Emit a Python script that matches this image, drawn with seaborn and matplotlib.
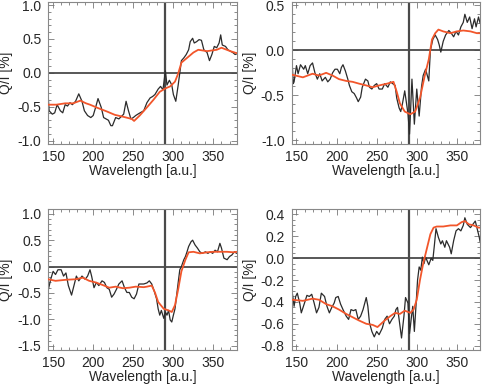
import matplotlib
matplotlib.use("Agg")
import matplotlib.pyplot as plt
import seaborn as sns
from matplotlib.ticker import AutoMinorLocator, MultipleLocator, FormatStrFormatter

# panel 1 (top left)
x1_obs = [144, 145, 149, 152, 155, 159, 162, 165, 168, 171, 174, 178, 182, 186, 189, 193, 197, 200, 203, 206,
          210, 213, 216, 219, 222, 224, 228, 232, 238, 241, 244, 247, 250, 253, 257, 263, 267, 271, 274, 277,
          281, 284, 287, 290, 292, 295, 298, 300, 303, 306, 308, 310, 313, 316, 319, 321, 324, 326, 329, 332,
          335, 338, 342, 345, 348, 351, 354, 357, 359, 361, 365, 368, 371, 374, 377, 379]
y1_obs = [-0.37, -0.56, -0.61, -0.59, -0.47, -0.56, -0.59, -0.47, -0.49, -0.44, -0.47, -0.42, -0.31, -0.42,
          -0.56, -0.63, -0.66, -0.63, -0.51, -0.38, -0.51, -0.66, -0.68, -0.70, -0.78, -0.78, -0.66, -0.68,
          -0.61, -0.42, -0.56, -0.68, -0.66, -0.63, -0.60, -0.56, -0.44, -0.37, -0.35, -0.32, -0.24, -0.20,
          -0.25, 0.03, -0.18, -0.11, -0.18, -0.32, -0.42, -0.18, 0.00, 0.18, 0.22, 0.27, 0.34, 0.46, 0.51,
          0.44, 0.46, 0.49, 0.48, 0.34, 0.30, 0.18, 0.27, 0.39, 0.37, 0.44, 0.56, 0.41, 0.39, 0.34, 0.32,
          0.30, 0.27, 0.28]
x1_fit = [144, 154, 165, 175, 184, 191, 196, 206, 217, 227, 238, 248, 251, 258, 267, 275, 283, 290, 296, 302,
          306, 310, 317, 325, 331, 342, 354, 360, 371, 379]
y1_fit = [-0.47, -0.47, -0.45, -0.45, -0.41, -0.45, -0.47, -0.52, -0.57, -0.62, -0.65, -0.68, -0.71, -0.63,
          -0.51, -0.40, -0.28, -0.23, -0.20, -0.13, -0.01, 0.15, 0.22, 0.30, 0.34, 0.32, 0.34, 0.37, 0.32, 0.29]

# panel 2 (top right)
x2_obs = [144, 146, 147, 150, 152, 155, 159, 161, 164, 167, 170, 173, 176, 179, 182, 186, 189, 192, 195, 198,
          201, 204, 206, 208, 211, 214, 216, 219, 222, 225, 227, 230, 232, 236, 239, 241, 244, 247, 250, 253,
          257, 260, 264, 267, 270, 273, 275, 278, 280, 282, 285, 289, 291, 294, 297, 300, 303, 306, 308, 311,
          315, 317, 320, 323, 326, 328, 330, 333, 336, 340, 343, 346, 349, 352, 355, 358, 360, 363, 366, 369,
          372, 374, 377, 379]
y2_obs = [-0.04, -0.37, -0.35, -0.17, -0.26, -0.16, -0.21, -0.17, -0.26, -0.17, -0.14, -0.25, -0.32, -0.26,
          -0.34, -0.30, -0.35, -0.32, -0.25, -0.21, -0.21, -0.26, -0.19, -0.16, -0.23, -0.32, -0.39, -0.46,
          -0.48, -0.53, -0.57, -0.52, -0.41, -0.32, -0.34, -0.41, -0.43, -0.39, -0.37, -0.43, -0.43, -0.37,
          -0.41, -0.35, -0.37, -0.39, -0.53, -0.64, -0.68, -0.60, -0.45, -0.70, -0.93, -0.32, -0.82, -0.43,
          -0.73, -0.40, -0.28, -0.21, -0.34, 0.00, 0.12, 0.17, 0.12, 0.06, -0.02, 0.10, 0.17, 0.22, 0.19,
          0.15, 0.21, 0.17, 0.26, 0.31, 0.40, 0.31, 0.37, 0.24, 0.35, 0.26, 0.37, 0.30]
x2_fit = [144, 158, 170, 178, 187, 195, 203, 212, 220, 228, 237, 245, 253, 263, 271, 275, 279, 285, 292, 298,
          304, 310, 315, 319, 323, 327, 333, 342, 350, 358, 367, 375, 379]
y2_fit = [-0.27, -0.30, -0.26, -0.28, -0.25, -0.28, -0.32, -0.34, -0.35, -0.37, -0.39, -0.41, -0.39, -0.37,
          -0.35, -0.46, -0.59, -0.68, -0.71, -0.68, -0.53, -0.28, -0.10, 0.12, 0.19, 0.23, 0.21, 0.19, 0.21,
          0.22, 0.21, 0.19, 0.19]

# panel 3 (bottom left)
x3_obs = [144, 147, 150, 153, 156, 160, 163, 166, 169, 173, 176, 179, 182, 186, 190, 193, 196, 198, 201, 204,
          207, 211, 214, 217, 220, 223, 226, 229, 232, 236, 239, 242, 245, 248, 251, 254, 257, 263, 267, 270,
          273, 276, 279, 281, 283, 285, 288, 290, 292, 294, 296, 298, 300, 302, 304, 306, 308, 310, 313, 315,
          317, 319, 322, 324, 327, 330, 333, 336, 340, 343, 346, 349, 352, 355, 358, 360, 363, 367, 370, 373,
          376, 379]
y3_obs = [-0.44, -0.24, -0.09, -0.15, -0.06, -0.06, -0.18, -0.12, -0.36, -0.54, -0.36, -0.18, -0.27, -0.18,
          -0.24, -0.18, -0.06, -0.18, -0.40, -0.30, -0.36, -0.27, -0.30, -0.40, -0.43, -0.58, -0.52, -0.43,
          -0.33, -0.27, -0.40, -0.49, -0.49, -0.58, -0.61, -0.52, -0.33, -0.33, -0.31, -0.27, -0.33, -0.46,
          -0.61, -0.80, -0.92, -0.83, -0.98, -0.86, -0.92, -0.83, -1.01, -1.05, -0.92, -0.80, -0.55, -0.30,
          -0.06, 0.00, 0.13, 0.19, 0.28, 0.38, 0.47, 0.50, 0.41, 0.35, 0.28, 0.25, 0.28, 0.25, 0.28, 0.25,
          0.31, 0.28, 0.44, 0.35, 0.16, 0.13, 0.19, 0.22, 0.28, 0.25]
x3_fit = [144, 153, 166, 178, 187, 195, 203, 212, 220, 228, 237, 245, 253, 263, 267, 273, 277, 281, 288, 294,
          298, 302, 306, 310, 315, 319, 325, 333, 342, 350, 358, 367, 375, 379]
y3_fit = [-0.24, -0.27, -0.25, -0.24, -0.21, -0.27, -0.30, -0.35, -0.40, -0.38, -0.41, -0.40, -0.38, -0.39,
          -0.38, -0.36, -0.49, -0.67, -0.80, -0.83, -0.86, -0.73, -0.43, -0.09, 0.13, 0.27, 0.28, 0.25, 0.27,
          0.28, 0.28, 0.28, 0.27, 0.28]

# panel 4 (bottom right)
x4_obs = [144, 145, 147, 149, 151, 154, 156, 160, 163, 166, 169, 172, 175, 178, 181, 185, 188, 191, 194, 197,
          199, 202, 205, 208, 212, 215, 218, 221, 224, 227, 230, 233, 237, 239, 241, 244, 247, 250, 253, 257,
          260, 263, 266, 269, 272, 274, 276, 278, 281, 284, 286, 289, 291, 293, 295, 297, 299, 301, 303, 305,
          307, 309, 311, 315, 318, 320, 322, 324, 327, 330, 332, 335, 337, 341, 343, 346, 349, 352, 355, 358,
          360, 363, 367, 370, 373, 375, 378, 379]
y4_obs = [-0.32, -0.33, -0.44, -0.35, -0.32, -0.41, -0.50, -0.41, -0.34, -0.35, -0.33, -0.41, -0.50, -0.45,
          -0.32, -0.35, -0.44, -0.50, -0.45, -0.41, -0.36, -0.35, -0.42, -0.47, -0.53, -0.56, -0.47, -0.48,
          -0.47, -0.56, -0.53, -0.47, -0.36, -0.44, -0.59, -0.67, -0.72, -0.67, -0.70, -0.64, -0.56, -0.53,
          -0.60, -0.56, -0.53, -0.47, -0.45, -0.56, -0.73, -0.53, -0.36, -0.41, -0.69, -0.56, -0.44, -0.67,
          -0.44, -0.20, -0.08, -0.11, 0.01, -0.05, 0.01, -0.06, 0.00, -0.02, 0.12, 0.27, 0.19, 0.13, 0.16,
          0.10, 0.16, 0.10, 0.04, 0.16, 0.25, 0.27, 0.25, 0.30, 0.37, 0.31, 0.28, 0.31, 0.34, 0.28, 0.19, 0.15]
x4_fit = [144, 158, 170, 178, 187, 195, 203, 212, 220, 228, 237, 245, 251, 254, 260, 267, 273, 279, 285, 292,
          296, 300, 304, 308, 313, 317, 321, 325, 333, 342, 350, 356, 360, 365, 371, 377, 379]
y4_fit = [-0.38, -0.39, -0.37, -0.38, -0.42, -0.44, -0.47, -0.51, -0.54, -0.57, -0.60, -0.61, -0.63, -0.61,
          -0.57, -0.53, -0.50, -0.51, -0.48, -0.50, -0.47, -0.38, -0.20, -0.05, 0.10, 0.22, 0.28, 0.29, 0.29,
          0.30, 0.30, 0.33, 0.34, 0.31, 0.30, 0.28, 0.28]

panels = [
    (x1_obs, y1_obs, x1_fit, y1_fit, (-1.05, 1.05), 0.5, 5),
    (x2_obs, y2_obs, x2_fit, y2_fit, (-1.04, 0.54), 0.5, 5),
    (x3_obs, y3_obs, x3_fit, y3_fit, (-1.58, 1.09), 0.5, 5),
    (x4_obs, y4_obs, x4_fit, y4_fit, (-0.84, 0.45), 0.2, 4),
]
line_pos = 290
xlim = (144, 379)

sns.set_style("ticks")
plt.rcParams["font.family"] = ["Liberation Sans", "DejaVu Sans"]
plt.rcParams["font.size"] = 10

fig = plt.figure(figsize=(4.85, 3.88), dpi=100)
rects = [
    [0.0996, 0.6289, 0.3885, 0.3668],
    [0.6014, 0.6289, 0.3885, 0.3668],
    [0.0996, 0.0979, 0.3885, 0.3634],
    [0.6014, 0.0979, 0.3885, 0.3634],
]

for rect, (xo, yo, xf, yf, ylim, ystep, nminor) in zip(rects, panels):
    ax = fig.add_axes(rect)
    ax.axhline(0, color="#4a4a4a", lw=1.3, zorder=1)
    ax.axvline(line_pos, color="#4a4a4a", lw=1.6, zorder=1)
    sns.lineplot(x=xo, y=yo, ax=ax, color="#2b2b2b", lw=0.9, estimator=None, sort=False, zorder=2)
    sns.lineplot(x=xf, y=yf, ax=ax, color="#f2562b", lw=1.3, estimator=None, sort=False, zorder=3)
    ax.set_xlim(*xlim)
    ax.set_ylim(*ylim)
    ax.xaxis.set_major_locator(MultipleLocator(50))
    ax.xaxis.set_minor_locator(AutoMinorLocator(5))
    ax.yaxis.set_major_locator(MultipleLocator(ystep))
    ax.yaxis.set_minor_locator(AutoMinorLocator(nminor))
    ax.yaxis.set_major_formatter(FormatStrFormatter("%.1f"))
    ax.tick_params(which="both", direction="in", top=True, right=True, color="#777777", width=0.6)
    ax.tick_params(which="major", length=4, labelsize=10)
    ax.tick_params(axis="x", which="major", pad=4)
    ax.tick_params(axis="y", which="major", pad=5)
    ax.tick_params(which="minor", length=2)
    for s in ax.spines.values():
        s.set_color("#888888")
        s.set_linewidth(0.8)
    ax.set_xlabel("Wavelength [a.u.]", fontsize=10, labelpad=0)
    ax.set_ylabel("Q/I [%]", fontsize=10, labelpad=3)

fig.savefig("out.png", dpi=100)
